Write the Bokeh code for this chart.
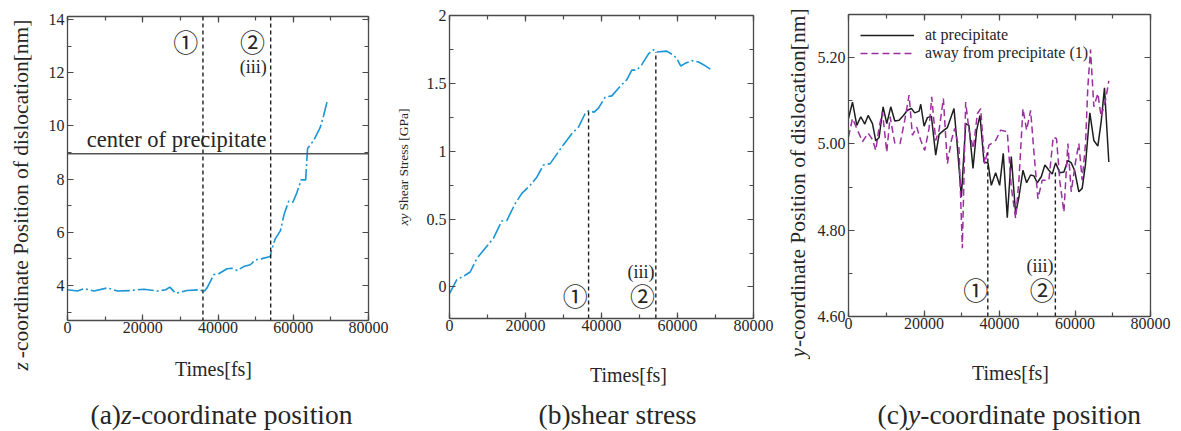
import math
from bokeh.plotting import figure
from bokeh.layouts import row, column
from bokeh.models import (Range1d, LinearAxis, SingleIntervalTicker, Label, Span,
                          Legend, LegendItem, PrintfTickFormatter, CustomJSTickFormatter)
from bokeh.embed import file_html
from bokeh.resources import INLINE

SERIF = '"Liberation Serif", serif'
CJK = '"Noto Sans CJK JP", sans-serif'
AX = "#4a4a4a"
TXT = "#262626"
BLUE = "#1a95d5"
PURPLE = "#9b2fa0"
BLACK = "#1e1e1e"

# ---------------- data ----------------
# (a) z-coordinate position of dislocation [nm]
t_a = [0, 2650, 4400, 7070, 10600, 13300, 16800, 20300, 23900, 26100, 27200, 28700,
       31800, 35400, 36100, 37100, 38900, 40200, 42400, 43700, 45100, 46800, 48600,
       49900, 51700, 53900, 54200, 55200, 56600, 57600, 58800, 59900, 61000, 62100,
       63300, 63800, 65430, 67200, 68080, 68960]
z_a = [3.84, 3.79, 3.88, 3.79, 3.91, 3.79, 3.81, 3.86, 3.79, 3.84, 3.94, 3.71,
       3.81, 3.84, 3.74, 3.91, 4.41, 4.44, 4.63, 4.65, 4.56, 4.71, 4.78,
       4.96, 5.01, 5.09, 5.31, 5.75, 6.06, 6.69, 7.17, 7.13, 7.50, 7.97,
       7.97, 9.15, 9.45, 9.95, 10.39, 10.89]
precip_center = 8.95
events_a = [36000, 54000]

# (b) xy shear stress [GPa]
t_b = [0, 1930, 4120, 5440, 7190, 9820, 11580, 13770, 15090, 17280, 19040, 21230,
       22980, 24740, 26490, 28250, 30000, 32190, 33950, 35700, 36580, 38070, 39210,
       40960, 42720, 44910, 46670, 47980, 49300, 50610, 52370, 53680, 54560, 57190,
       58950, 59820, 60870, 62020, 63770, 65530, 66840, 69040]
s_b = [-0.049, 0.054, 0.086, 0.11, 0.21, 0.30, 0.36, 0.487, 0.49, 0.615, 0.69, 0.75,
       0.81, 0.90, 0.91, 0.98, 1.05, 1.13, 1.18, 1.28, 1.30, 1.29, 1.32,
       1.40, 1.41, 1.48, 1.53, 1.60, 1.60, 1.64, 1.72, 1.75, 1.734, 1.74,
       1.71, 1.685, 1.63, 1.65, 1.67, 1.66, 1.64, 1.60]
events_b = [36600, 54300]
events_b_top = [1.30, 1.734]

# (c) y-coordinate position of dislocation [nm]
t_c1 = [0, 1060, 2200, 3260, 4320, 5200, 6350, 7230, 8110, 9170, 10140, 11200, 12260,
        13400, 14550, 15610, 16670, 17550, 18700, 19140, 20020, 20900, 21960, 23100,
        24000, 25300, 26200, 27950, 28840, 29900, 31040, 31900, 32980, 33950, 34830,
        35890, 36950, 37830, 38980, 40040, 41000, 42060, 43120, 44270, 45150, 46210,
        47180, 48240, 49120, 50000, 51060, 52030, 53090, 53970, 54850, 56000, 57060,
        58110, 59000, 59880, 61020, 61900, 62790, 63930, 64990, 66050, 66930, 67810,
        68960]
y_c1 = [5.059, 5.097, 5.043, 5.063, 5.046, 5.066, 5.047, 5.007, 5.015, 5.086, 5.047,
        5.086, 5.053, 5.055, 5.066, 5.078, 5.082, 5.072, 5.076, 5.092, 5.041, 5.061,
        5.064, 4.974, 5.022, 5.032, 5.038, 5.082, 4.993, 4.877, 5.047, 5.043, 4.943,
        5.032, 5.066, 4.958, 4.956, 4.904, 4.933, 4.904, 4.978, 4.829, 4.971, 4.839,
        4.877, 4.939, 4.910, 4.928, 4.926, 4.910, 4.924, 4.951, 4.939, 4.930, 4.956,
        4.933, 4.935, 4.962, 4.956, 4.939, 4.889, 4.897, 4.954, 5.072, 5.008, 4.995,
        5.051, 5.130, 4.958]
t_c2 = [0, 1060, 2200, 3700, 5200, 6350, 7230, 8110, 9000, 10140, 11020, 12260, 13670,
        14900, 16050, 16930, 18080, 19140, 20200, 21340, 22050, 23100, 24000, 25130,
        26190, 27250, 28130, 29280, 30160, 31040, 31920, 33070, 34130, 35010, 36070,
        37210, 38980, 40300, 42060, 43120, 44270, 45150, 46210, 47180, 48240, 49120,
        50180, 51320, 52200, 53090, 54230, 55110, 56000, 57060, 58110, 59000, 60140,
        61020, 61900, 62790, 63400, 64110, 64990, 66050, 66930, 68080, 68960]
y_c2 = [5.016, 5.059, 5.036, 5.005, 5.025, 5.010, 4.985, 5.039, 5.074, 4.981, 5.063,
        5.002, 5.001, 5.055, 5.113, 5.020, 5.039, 5.008, 4.985, 5.036, 5.109, 5.008,
        5.032, 5.105, 4.954, 5.008, 5.036, 4.989, 4.758, 5.097, 5.032, 4.989, 5.070,
        5.082, 4.954, 4.997, 5.008, 5.032, 5.028, 4.900, 4.827, 4.916, 5.082, 5.032,
        5.078, 4.981, 4.873, 4.916, 4.916, 4.916, 5.016, 5.012, 4.912, 4.842, 5.001,
        4.889, 4.958, 5.001, 4.916, 5.001, 5.132, 5.219, 5.086, 5.117, 5.063, 5.101,
        5.146]
events_c = [36900, 54800]
events_c_top = [4.981, 4.938]

x_ticks_interval = 20000
legend_labels = ["at precipitate", "away from precipitate (1)"]

TICK_KW = dict(axis_line_color=AX, axis_line_width=1.3,
               major_tick_line_color=AX, minor_tick_line_color=AX,
               major_tick_line_width=1.2, minor_tick_line_width=1.2,
               major_tick_in=6, major_tick_out=0, minor_tick_in=4, minor_tick_out=0)

PLOT_H = 340
CAP_H = 431 - PLOT_H


def make_fig(width, left, right, top, bottom, xr, yr, y_interval, y_fmt=None):
    p = figure(width=width, height=PLOT_H, x_range=Range1d(*xr), y_range=Range1d(*yr),
               min_border_left=left, min_border_right=right, min_border_top=top,
               min_border_bottom=bottom, toolbar_location=None, output_backend="svg",
               x_axis_type=None, y_axis_type=None)
    p.outline_line_color = None
    p.background_fill_color = "white"
    p.border_fill_color = "white"
    xt = SingleIntervalTicker(interval=x_ticks_interval, num_minor_ticks=2)
    yt = SingleIntervalTicker(interval=y_interval, num_minor_ticks=2)
    show_kw = dict(major_label_text_font=SERIF, major_label_text_font_size="16px",
                   major_label_text_color=TXT)
    hide_kw = dict(formatter=CustomJSTickFormatter(code="return ''"),
                   major_label_text_font_size="1px", major_label_standoff=0)
    p.add_layout(LinearAxis(ticker=xt, major_label_standoff=1, **show_kw, **TICK_KW), "below")
    p.add_layout(LinearAxis(ticker=xt, **hide_kw, **TICK_KW), "above")
    lkw = dict(show_kw)
    if y_fmt is not None:
        lkw["formatter"] = y_fmt
    p.add_layout(LinearAxis(ticker=yt, major_label_standoff=3, **lkw, **TICK_KW), "left")
    p.add_layout(LinearAxis(ticker=yt, **hide_kw, **TICK_KW), "right")
    return p


def blank_fig(w, h, left=0, right=0):
    # text-only strip; data coordinates equal local pixels, y measured downward.
    # Borders match the plot above it so that the column keeps both frames aligned.
    f = figure(width=w, height=h, x_range=Range1d(left, w - right), y_range=Range1d(h, 0),
               min_border_left=left, min_border_right=right, min_border_top=0,
               min_border_bottom=0, toolbar_location=None, output_backend="svg",
               x_axis_type=None, y_axis_type=None)
    f.outline_line_color = None
    f.background_fill_color = "white"
    f.border_fill_color = "white"
    return f


def tlabel(p, x, y, text, size, italic=False, angle=0.0, align="left",
           baseline="alphabetic", font=SERIF):
    p.add_layout(Label(x=x, y=y, text=text, text_font=font, text_font_size=size,
                       text_font_style="italic" if italic else "normal",
                       text_color=TXT, angle=angle, text_align=align,
                       text_baseline=baseline))


EM_CAP = 27.5
EM_Y = 21.5
CIRC = "25px"
DASH_EV = "4 3"
BLUE_DASH = "16 3 2 3"
CAP_BASE = 74
UP = math.pi / 2

# ---------------- (a) ----------------
LA = 36
pa = make_fig(390 - LA, 31, 22, 16, 20, (0, 80000), (2.684, 14.11), 2)
pa.line(t_a, z_a, line_color=BLUE, line_width=1.6, line_dash=BLUE_DASH)
pa.add_layout(Span(location=precip_center, dimension="width", line_color="#555555",
                   line_width=1.5))
for ev in events_a:
    pa.add_layout(Span(location=ev, dimension="height", line_color=BLACK,
                       line_width=1.4, line_dash=DASH_EV))
tlabel(pa, 31400, 13.18, "①", CIRC, font=CJK, align="center", baseline="middle")
tlabel(pa, 49200, 13.18, "②", CIRC, font=CJK, align="center", baseline="middle")
tlabel(pa, 49400, 12.2, "(iii)", "18px", align="center", baseline="middle")
tlabel(pa, 5100, 9.49, "center of precipitate", "22.5px")

ya = blank_fig(LA, 431)
tlabel(ya, 20, 370, "z", f"{EM_Y}px", italic=True, angle=UP, baseline="middle")
tlabel(ya, 20, 370 - 0.389 * EM_Y - 4, "-coordinate Position of  dislocation[nm]",
       f"{EM_Y}px", angle=UP, baseline="middle")
ca = blank_fig(390 - LA, CAP_H, 31, 22)
tlabel(ca, 213 - LA, 28, "Times[fs]", "20px", align="center")
tlabel(ca, 90 - LA, CAP_BASE, "(a)", f"{EM_CAP}px")
tlabel(ca, 90 - LA + 1.110 * EM_CAP, CAP_BASE, "z", f"{EM_CAP}px", italic=True)
tlabel(ca, 90 - LA + (1.110 + 0.389) * EM_CAP, CAP_BASE, "-coordinate position",
       f"{EM_CAP}px")

# ---------------- (b) ----------------
LB = 24
pb = make_fig(390 - LB, 35, 27, 15, 22, (0, 80000), (-0.233, 2.003), 0.5,
              y_fmt=CustomJSTickFormatter(code="return String(Math.round(tick*100)/100)"))
pb.line(t_b, s_b, line_color=BLUE, line_width=1.6, line_dash=BLUE_DASH)
pb.segment(x0=events_b, y0=[-0.233] * 2, x1=events_b, y1=events_b_top,
           line_color=BLACK, line_width=1.4, line_dash=DASH_EV)
tlabel(pb, 33100, -0.061, "①", CIRC, font=CJK, align="center", baseline="middle")
tlabel(pb, 50800, -0.061, "②", CIRC, font=CJK, align="center", baseline="middle")
tlabel(pb, 50400, 0.11, "(iii)", "18px", align="center", baseline="middle")

yb = blank_fig(LB, 431)
tlabel(yb, 13, 225, "xy", "13.5px", italic=True, angle=UP, baseline="middle")
tlabel(yb, 13, 225 - 0.888 * 13.5 - 3, "Shear Stress [GPa]", "13.5px",
       angle=UP, baseline="middle")
cb = blank_fig(390 - LB, CAP_H, 35, 27)
tlabel(cb, 238 - LB, 34, "Times[fs]", "20px", align="center")
tlabel(cb, 148 - LB, CAP_BASE, "(b)shear stress", f"{EM_CAP}px")

# ---------------- (c) ----------------
LC = 30
pc = make_fig(401 - LC, 38, 31, 14, 24, (0, 80000), (4.60, 5.30), 0.2,
              y_fmt=PrintfTickFormatter(format="%.2f"))
r1 = pc.line(t_c1, y_c1, line_color=BLACK, line_width=1.5)
r2 = pc.line(t_c2, y_c2, line_color=PURPLE, line_width=1.5, line_dash="7 4")
pc.segment(x0=events_c, y0=[4.60] * 2, x1=events_c, y1=events_c_top,
           line_color=BLACK, line_width=1.4, line_dash=DASH_EV)
tlabel(pc, 33700, 4.664, "①", CIRC, font=CJK, align="center", baseline="middle")
tlabel(pc, 51300, 4.664, "②", CIRC, font=CJK, align="center", baseline="middle")
tlabel(pc, 50700, 4.717, "(iii)", "18px", align="center", baseline="middle")
leg = Legend(items=[LegendItem(label=legend_labels[0], renderers=[r1]),
                    LegendItem(label=legend_labels[1], renderers=[r2])],
             location="top_left", margin=12, padding=0, spacing=0,
             glyph_width=54, glyph_height=18, label_height=18, label_standoff=11,
             label_text_font=SERIF, label_text_font_size="16px", label_text_color=TXT,
             border_line_color=None, background_fill_alpha=0)
pc.add_layout(leg)

yc = blank_fig(LC, 431)
tlabel(yc, 17, 357, "y", f"{EM_Y}px", italic=True, angle=UP, baseline="middle")
tlabel(yc, 17, 357 - 0.444 * EM_Y - 1, "-coordinate Position of dislocation[nm]",
       f"{EM_Y}px", angle=UP, baseline="middle")
cc = blank_fig(401 - LC, CAP_H, 38, 31)
tlabel(cc, 230 - LC, 32, "Times[fs]", "20px", align="center")
tlabel(cc, 97 - LC, CAP_BASE, "(c)", f"{EM_CAP}px")
tlabel(cc, 97 - LC + 1.110 * EM_CAP, CAP_BASE, "y", f"{EM_CAP}px", italic=True)
tlabel(cc, 97 - LC + (1.110 + 0.444) * EM_CAP, CAP_BASE, "-coordinate position",
       f"{EM_CAP}px")

layout = row(row(ya, column(pa, ca)), row(yb, column(pb, cb)), row(yc, column(pc, cc)))
open("out.html", "w").write(file_html(layout, INLINE))
